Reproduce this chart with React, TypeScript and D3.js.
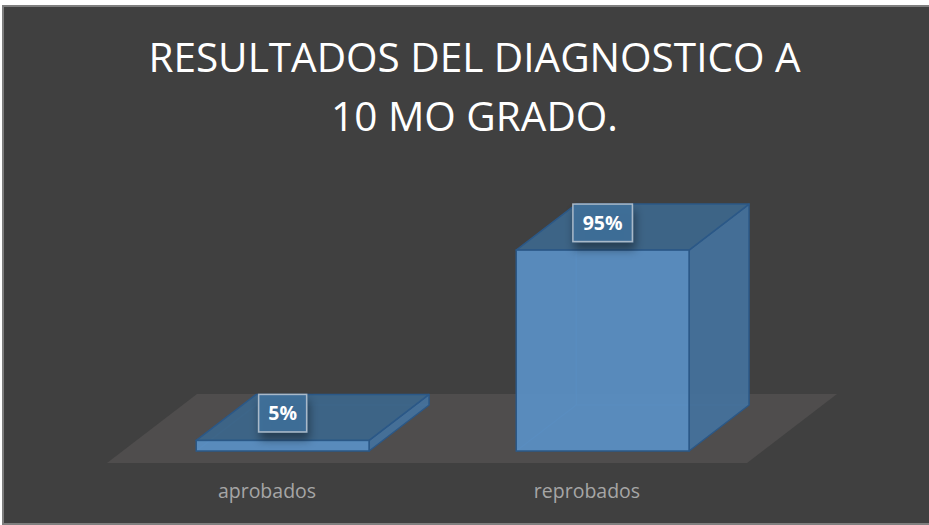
import React from 'react'
import * as d3 from 'd3'

// chart data
const categories = ['aprobados', 'reprobados']
const values = [0.05, 0.95]
const valueLabels = ['5%', '95%']
const titleLines = ['RESULTADOS DEL DIAGNOSTICO A', '10 MO GRADO.']

const W = 929
const H = 525
const FONT = "'Open Sans', 'Noto Sans', sans-serif"

// floor geometry (front edge + depth offset)
const floorY = 463
const depthDX = 90
const depthDY = 69
const k = depthDX / depthDY

export default function App() {
  const x = d3.scaleBand<string>()
    .domain(categories)
    .range([107, 747])
    .paddingInner(0.46)
    .paddingOuter(0.23)

  const h = d3.scaleLinear().domain([0, 1]).range([0, 211.5])

  // bars sit in the middle of the floor depth
  const frontGap = 12
  const barDepth = 46
  const baseY = floorY - frontGap
  const bdx = barDepth * k
  const offX = frontGap * k

  const floorPts = [
    [x.range()[0], floorY],
    [x.range()[1], floorY],
    [x.range()[1] + depthDX, floorY - depthDY],
    [x.range()[0] + depthDX, floorY - depthDY],
  ]
  const poly = (pts: number[][]) => pts.map(p => p.join(',')).join(' ')

  return (
    <div style={{ position: 'absolute', left: 0, top: 0 }}>
      <svg width={W} height={H} style={{ display: 'block', background: '#ffffff' }}>
        <defs>
          <filter id="lblShadow" x="-50%" y="-50%" width="200%" height="220%">
            <feDropShadow dx="2" dy="7" stdDeviation="5" floodColor="#000" floodOpacity="0.45" />
          </filter>
        </defs>
        <rect x={3} y={6} width={W} height={H - 7} fill="#404040" stroke="#7f7f7f" strokeWidth={2} />

        {titleLines.map((t, i) => (
          <text
            key={t}
            x={474.5}
            y={72 + i * 59}
            textAnchor="middle"
            fill="#ffffff"
            fontFamily={FONT}
            fontSize={40.5}
          >
            {t}
          </text>
        ))}

        <polygon points={poly(floorPts)} fill="#4f4d4d" />

        {categories.map((c, i) => {
          const x0 = (x(c) ?? 0) + offX
          const x1 = x0 + x.bandwidth()
          const yTop = baseY - h(values[i])
          const edge = '#2b5887'
          return (
            <g key={c}>
              {/* hidden edges seen through the translucent faces */}
              <g stroke="#4a7fb3" strokeWidth={1.2} fill="none" opacity={0.8}>
                <line x1={x0 + bdx} y1={yTop - barDepth} x2={x0 + bdx} y2={baseY - barDepth} />
                <line x1={x0 + bdx} y1={baseY - barDepth} x2={x1 + bdx} y2={baseY - barDepth} />
                <line x1={x0} y1={baseY} x2={x0 + bdx} y2={baseY - barDepth} />
              </g>
              <polygon
                points={poly([[x1, yTop], [x1 + bdx, yTop - barDepth], [x1 + bdx, baseY - barDepth], [x1, baseY]])}
                fill="#44719b"
                fillOpacity={0.95}
                stroke={edge}
                strokeWidth={1.5}
                strokeLinejoin="round"
              />
              <polygon
                points={poly([[x0, yTop], [x1, yTop], [x1 + bdx, yTop - barDepth], [x0 + bdx, yTop - barDepth]])}
                fill="#3d6588"
                fillOpacity={0.97}
                stroke={edge}
                strokeWidth={1.5}
                strokeLinejoin="round"
              />
              <rect
                x={x0}
                y={yTop}
                width={x1 - x0}
                height={baseY - yTop}
                fill="#5a8ec2"
                fillOpacity={0.95}
                stroke={edge}
                strokeWidth={1.5}
              />
            </g>
          )
        })}

        {categories.map((c, i) => {
          const cx = (x(c) ?? 0) + offX + x.bandwidth() / 2
          const top = baseY - h(values[i]) - barDepth
          const bw = valueLabels[i].length * 11.5 + 25
          return (
            <g key={'lbl' + c}>
              <rect
                x={cx - bw / 2}
                y={top}
                width={bw}
                height={37.5}
                fill="#41719c"
                fillOpacity={0.85}
                stroke="#a9b9c9"
                strokeWidth={1.5}
                filter="url(#lblShadow)"
              />
              <text
                x={cx}
                y={top + 26}
                textAnchor="middle"
                fill="#ffffff"
                fontFamily={FONT}
                fontWeight="bold"
                fontSize={19.5}
              >
                {valueLabels[i]}
              </text>
            </g>
          )
        })}

        {categories.map(c => (
          <text
            key={'ax' + c}
            x={(x(c) ?? 0) + x.bandwidth() / 2}
            y={498}
            textAnchor="middle"
            fill="#a6a6a6"
            fontFamily={FONT}
            fontSize={19.5}
          >
            {c}
          </text>
        ))}
      </svg>
    </div>
  )
}
